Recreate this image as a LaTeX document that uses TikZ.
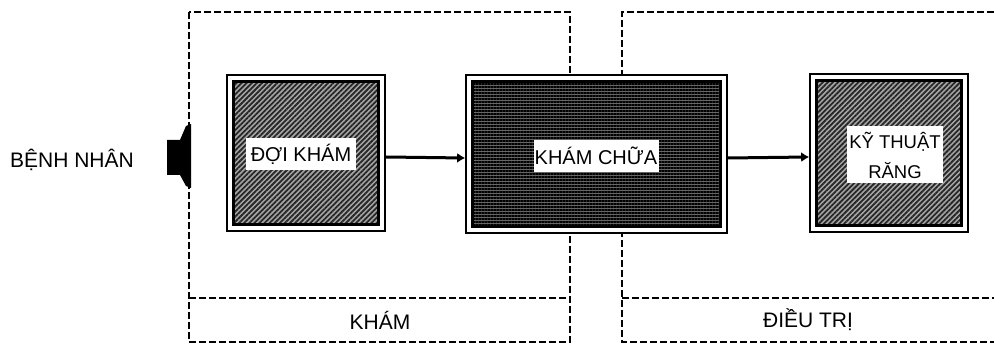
\documentclass[tikz,border=0pt]{standalone}
\usepackage{fontspec}
\setmainfont{Liberation Sans}
\usetikzlibrary{patterns.meta,arrows.meta}
\begin{document}
\begin{tikzpicture}[x=1pt,y=1pt,
  txt/.style={font=\fontsize{21}{24}\selectfont, inner sep=0pt},
  dashln/.style={line width=1.8pt, dash pattern=on 7pt off 3pt},
  arr/.style={line width=3pt, -{Latex[length=8pt,width=10pt]}},
  diagbox/.style={draw, line width=1.6pt, fill=white, inner sep=0pt,
    path picture={\draw[line width=3.5pt, preaction={fill=black!35},
      pattern={Lines[angle=45,distance=3.6pt,line width=1.8pt]}, pattern color=black!85]
      ([shift={(6.5pt,6.5pt)}]path picture bounding box.south west) rectangle
      ([shift={(-6.5pt,-6.5pt)}]path picture bounding box.north east);}},
  horzbox/.style={draw, line width=1.6pt, fill=white, inner sep=0pt,
    path picture={\draw[line width=3.5pt, preaction={fill=black!60},
      pattern={Lines[angle=0,distance=3pt,line width=1.9pt]}, pattern color=black]
      ([shift={(6.5pt,6.5pt)}]path picture bounding box.south west) rectangle
      ([shift={(-6.5pt,-6.5pt)}]path picture bounding box.north east);}},
  lbl/.style={txt, fill=white, align=center, font=\fontsize{20}{24}\selectfont}
]
\useasboundingbox (0,0) rectangle (994,345);
% dashed regions
\draw[dashln] (189,333) rectangle (570,3);
\draw[dashln] (189,47) -- (570,47);
\draw[dashln] (994,333) -- (622,333) -- (622,3) -- (994,3);
\draw[dashln] (622,47) -- (994,47);
\node[txt] (kham) at (380,25) {KHÁM};
\node[txt] (dieutri) at (808,25) {ĐIỀU TRỊ};
% boxes
\node[diagbox, minimum width=158pt, minimum height=156pt] (dk) at (306,192) {};
\node[horzbox, minimum width=261pt, minimum height=158pt] (kc) at (596.5,191) {};
\node[diagbox, minimum width=158pt, minimum height=158pt] (kt) at (889,192) {};
% labels
\node[lbl, minimum width=110pt, minimum height=32pt] (dkl) at (301,191) {ĐỢI KHÁM};
\node[lbl, minimum width=125pt, minimum height=32pt] (kcl) at (596,189) {KHÁM CHỮA};
\node[lbl, minimum width=96pt, minimum height=57pt, font=\fontsize{18.5}{30}\selectfont] (ktl) at (895,190) {KỸ THUẬT\\RĂNG};
% arrows
\draw[arr] ([yshift=-4pt]dk.east) -- ([yshift=-4pt]kc.west);
\draw[arr] ([yshift=-4pt]kc.east) -- ([yshift=-4pt]kt.west);
% patient
\node[txt] (bn) at (72,185) {BỆNH NHÂN};
\coordinate (entry) at (191,188);
\fill (167,205) -- (180,205) -- (186,219) -- (entry |- 0,221) -- (entry |- 0,157)
  -- (186,159) -- (180,170) -- (167,170) -- cycle;
\end{tikzpicture}
\end{document}
